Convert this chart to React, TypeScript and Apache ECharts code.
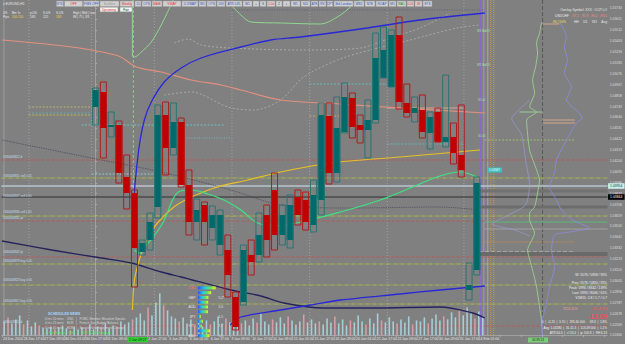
import React, { useEffect, useRef } from 'react';
import * as echarts from 'echarts';

const FONT = 'Liberation Sans, Arial, sans-serif';

// ---------- price scale ----------
const PRICE_MIN = 1.0246;
const PRICE_MAX = 1.05814;
const PRICE_STEP = 0.00109;

// ---------- candles (index 0..49) ----------
const candleOpen = [1.04744,1.04894,1.04544,1.04564,1.04044,1.03884,1.03294,1.03414,1.03744,1.04664,1.04334,1.04594,1.03964,1.03594,1.03764,1.03534,1.03364,1.03314,1.02844,1.02794,1.03264,1.03264,1.03664,1.03914,1.03464,1.03414,1.03844,1.03814,1.03564,1.03814,1.04654,1.04084,1.04494,1.04834,1.04564,1.04514,1.04614,1.05034,1.04944,1.05464,1.04784,1.04684,1.04714,1.04484,1.04694,1.04394,1.04444,1.04264,1.02914,1.03114];
const candleClose = [1.04914,1.04534,1.04564,1.04084,1.03884,1.03334,1.03384,1.03594,1.04664,1.04334,1.04594,1.03964,1.03594,1.03714,1.03594,1.03664,1.03664,1.03064,1.02544,1.03314,1.03194,1.03464,1.03414,1.03464,1.03664,1.03764,1.03664,1.03594,1.03864,1.04664,1.04084,1.04534,1.04844,1.04544,1.04514,1.04614,1.05234,1.05314,1.05464,1.04794,1.04684,1.04734,1.04494,1.04644,1.04394,1.04444,1.04284,1.04114,1.02964,1.03984];
const candleLow = [1.04564,1.04234,1.04444,1.03984,1.03724,1.02944,1.03264,1.03314,1.03634,1.04064,1.04264,1.03944,1.03464,1.03414,1.03364,1.03414,1.03264,1.02844,1.02514,1.02764,1.03064,1.03194,1.03244,1.03314,1.03364,1.03334,1.03564,1.03514,1.03494,1.03664,1.03974,1.03994,1.04484,1.04434,1.04384,1.04234,1.04584,1.05034,1.04944,1.04724,1.04644,1.04594,1.04434,1.04324,1.04394,1.04344,1.04174,1.04044,1.02814,1.03064];
const candleHigh = [1.04934,1.04994,1.04694,1.04604,1.04264,1.03914,1.03414,1.03684,1.04764,1.04794,1.04784,1.04634,1.04114,1.03824,1.03794,1.03754,1.03714,1.03464,1.02894,1.03364,1.03414,1.03684,1.03764,1.04084,1.03764,1.03864,1.03914,1.03894,1.04014,1.04784,1.04784,1.04844,1.04984,1.04884,1.04664,1.04814,1.05484,1.05544,1.05514,1.05644,1.04974,1.04844,1.04864,1.04694,1.04734,1.05064,1.04584,1.04764,1.03184,1.04044];

// ---------- volume (lower timeframe, two per candle slot) ----------
const volumeBars = [
  140,180,120,160,200,110,150,90,130,100,80,
  70,90,60,80,100,70,50,90,60,80,70,110,60,90,80,120,70,100,90,140,110,130,160,
  180,220,150,280,200,330,420,300,250,190,170,
  140,180,120,160,100,130,90,150,110,140,190,120,170,130,200,160,
  120,150,100,170,130,220,140,110,160,130,180,120,190,150,110,140,210,130,160,120,
  140,110,170,130,190,120,160,100,150,130,200,140,110,170,120,220,150,130,180,140,
  120,160,130,190,110,150,140,180,120,170,210,150,190,160,230,180,250,200,280,220,170,240,190,
];

// ---------- time labels ----------
const dateLabels = ['24 Dec 2024','26 Dec 17:00','27 Dec 09:00','30 Dec 01:00','30 Dec 17:00','31 Dec 09:00','2 Jan 09:27','2 Jan 17:00','3 Jan 09:00','6 Jan 01:00','6 Jan 17:00','9 Jan 09:00','10 Jan 17:00','14 Jan 09:00','15 Jan 01:00','15 Jan 17:00','16 Jan 09:00','20 Jan 01:00','21 Jan 17:00','22 Jan 09:00','27 Jan 17:00','30 Jan 09:00','31 Jan 17:00','4 Feb 01:00'];
const highlightedLabel = 6;

// ---------- indicator curves [candle index, price] ----------
const blueVwap = [[4.73,1.03364],[4.86,1.03764],[5.12,1.04014],[5.63,1.04364],[6.27,1.04614],[7.16,1.04794],[8.83,1.04994],[11.0,1.05134],[13.56,1.05234],[18.68,1.05344],[22.52,1.05414],[26.36,1.05444],[34.93,1.05534],[41.71,1.05614],[50.03,1.05684]];
const blueLower = [[17.3,1.02564],[18.68,1.02644],[23.8,1.02714],[27.64,1.02764],[31.47,1.02814],[39.15,1.02874],[44.27,1.02914],[50.03,1.02954]];
const yellowMa = [[4.73,1.02714],[4.99,1.03014],[5.5,1.03184],[6.14,1.03334],[6.78,1.03444],[8.06,1.03594],[10.62,1.03774],[15.23,1.03934],[19.58,1.04014],[23.8,1.04094],[30.19,1.04184],[39.15,1.04244],[49.39,1.04314]];
const greenMa = [[4.99,1.03314],[5.63,1.03284],[6.27,1.03344],[7.42,1.03444],[8.7,1.03594],[10.62,1.03894],[12.28,1.03914],[14.46,1.03874],[16.5,1.03814],[18.68,1.03714],[20.6,1.03594],[22.52,1.03554],[26.36,1.03594],[31.47,1.03694],[36.59,1.03814],[40.43,1.03934],[44.27,1.04054],[46.83,1.04094],[49.0,1.04044]];
const salmonMa = [[-12.03,1.05414],[-3.07,1.05344],[2.94,1.05254],[5.25,1.05144],[8.44,1.05094],[12.28,1.05014],[16.12,1.04964],[18.68,1.04914],[23.8,1.04814],[31.47,1.04774],[39.15,1.04734],[50.03,1.04684]];
const navyMa = [[-12.03,1.03404],[-5.63,1.03314],[0.77,1.03234],[4.61,1.03184],[8.44,1.03094],[11.0,1.03044],[17.4,1.02914],[21.24,1.02854],[24.18,1.02784],[29.3,1.02734],[35.7,1.02734],[44.27,1.02744],[48.49,1.02684],[50.03,1.02634]];
const darkDotted = [[-12.03,1.04414],[-5.63,1.04314],[0.77,1.04214],[8.44,1.04094],[17.4,1.03914],[23.8,1.03764],[32.75,1.03734],[44.27,1.03744],[49.39,1.03714]];
const greenBandA = [[4.73,1.05814],[4.73,1.05254],[4.99,1.05244],[5.89,1.05294],[7.16,1.05394],[8.44,1.05564],[9.98,1.05814]];
const greenBandB = [[17.4,1.05764],[18.68,1.05664],[19.96,1.05594],[23.8,1.05584],[28.92,1.05574],[31.47,1.05664],[33.39,1.05784],[34.3,1.05814]];
const grayEnvUpper = [[10.11,1.05384],[11.9,1.05424],[13.56,1.05364],[17.4,1.05334],[26.36,1.05314],[34.03,1.05334],[37.87,1.05434],[41.71,1.05534],[45.55,1.05684]];
const grayEnvLower = [[8.83,1.04864],[12.28,1.04894],[17.02,1.04744],[20.34,1.04714],[23.8,1.04814],[26.74,1.05044],[31.09,1.05214],[35.31,1.05314],[40.43,1.05414],[46.44,1.05534],[49.39,1.05564]];

// ---------- volume profile [offset, price] ----------
const profileGreen = [[-1,1.05594],[-3,1.05484],[-6,1.05384],[-5,1.05284],[-7,1.05144],[-10,1.05014],[-8,1.04884],[-13,1.04744],[-6,1.04694],[-16,1.04614],[-13,1.04314],[-6,1.04114],[-3,1.04014],[-5,1.03884],[-8,1.03744],[-13,1.03684],[-13,1.03614],[-8,1.03484],[-15,1.03314],[-10,1.03114],[-6,1.02944],[-3,1.02744],[-1,1.02614],[0,1.02464]];
const profileLavender = [[17,1.05594],[19,1.05564],[24,1.05444],[22,1.05344],[25,1.05214],[22,1.05084],[29,1.04944],[24,1.04814],[37,1.04684],[40,1.04634],[34,1.04584],[24,1.04414],[14,1.04214],[12,1.04084],[7,1.03944],[14,1.03814],[19,1.03714],[30,1.03614],[47,1.03534],[27,1.03494],[12,1.03464],[9,1.03314],[12,1.03144],[7,1.02944],[4,1.02784],[0,1.02614],[0,1.02464]];
const profileLavenderLeft = [[-13,1.04814],[-26,1.04694],[-31,1.04634],[-21,1.04464],[-17,1.04214],[-13,1.03964],[-17,1.03764],[-38,1.03644],[-51,1.03574],[-28,1.03514],[-13,1.03454]];

// ---------- horizontal levels ----------
const YG = '#b4c83c';
const levels: any[] = [
  { p: 1.05714, x1: 17.5, x2: 50, c: '#55556a', d: [1, 1.5] },
  { p: 1.04744, x1: -8.6, x2: -0.5, c: '#c8c070', d: [2, 1.5] },
  { p: 1.04684, x1: -8.6, x2: -0.5, c: '#60b0b0', d: [2, 1.5] },
  { p: 1.04664, x1: -8.6, x2: -0.5, c: '#d0c040', d: [2, 1.5] },
  { p: 1.04564, x1: -1.8, x2: 16.5, c: '#70d0d0', d: [2, 1.5] },
  { p: 1.04434, x1: 7.5, x2: 17.5, c: '#70c8d0', d: [1, 1.5] },
  { p: 1.04074, x1: -0.5, x2: 8, c: '#90d8e0', d: [2, 1.5] },
  { p: 1.04974, x1: 27.5, x2: 39, c: '#60c8c8', d: [2, 1.5] },
  { p: 1.04654, x1: 27.5, x2: 32.5, c: '#e0b040', d: [2, 1.5] },
  { p: 1.04734, x1: 37.5, x2: 47.3, c: '#e8b0a0' },
  { p: 1.04374, x1: 37.5, x2: 47.3, c: '#60c0c0', d: [2, 1.5] },
  { p: 1.04414, x1: 50, x2: 61.5, c: '#a0d070', d: [2, 1.5] },
  { p: 1.03394, x1: 50, x2: 61.5, c: '#e09040', d: [1, 1] },
  { p: 1.03294, x1: 48.5, x2: 61.5, c: '#d8d8d8', d: [4, 2] },
  { p: 1.05574, x1: 57.45, x2: 59.6, c: '#e8b090' },
  { p: 1.04614, x1: 57.45, x2: 61.6, c: '#e8b090' },
  { p: 1.04584, x1: 57.45, x2: 61.6, c: '#e8b090' },
  { p: 1.04694, x1: 54.5, x2: 57.45, c: '#a0e0a0' },
  { p: 1.03904, x1: 48.5, x2: 65.8, c: '#717171', w: 3 },
  { p: 1.03744, x1: 49.5, x2: 65.8, c: '#6c6c6c', w: 3 },
  { p: 1.03274, x1: 49, x2: 65.8, c: '#6a6a6a', w: 4 },
  { p: 1.04214, x1: -12.1, x2: 65.8, c: '#cc4c4c', d: [3, 2] },
  { p: 1.04034, x1: -12.1, x2: 65.8, c: YG, d: [4, 1, 1, 1] },
  { p: 1.03954, x1: -12.1, x2: 65.8, c: '#b6c6ce', w: 1.6, tag: '#c8eef0', tagText: '#103030' },
  { p: 1.03844, x1: -12.1, x2: 65.8, c: '#1a1a1a', tag: '#000000', tagText: '#ffffff' },
  { p: 1.03654, x1: -12.1, x2: 65.8, c: YG, d: [4, 1, 1, 1] },
  { p: 1.03604, x1: -12.1, x2: 50, c: '#c05050', d: [3, 2] },
  { p: 1.03594, x1: 50, x2: 65.8, c: '#50c878' },
  { p: 1.03524, x1: 50, x2: 65.8, c: '#a8a8a8' },
  { p: 1.03244, x1: -12.1, x2: 65.8, c: '#c85050', d: [3, 2] },
  { p: 1.03174, x1: -12.1, x2: 65.8, c: YG, d: [4, 1, 1, 1] },
  { p: 1.02964, x1: -12.1, x2: 65.8, c: YG, d: [4, 1, 1, 1] },
  { p: 1.02774, x1: -12.1, x2: 65.8, c: YG, d: [4, 1, 1, 1] },
  { p: 1.02554, x1: -12.1, x2: 65.8, c: '#c85050', d: [3, 2] },
];

// ---------- vertical lines ----------
const verticals: any[] = [
  { x: -11.78, c: '#a4a4a4' },
  { x: -8.57, c: '#a8a8a8', d: [1, 2] },
  { x: -0.51, c: '#a8a8a8', d: [1, 2] },
  { x: 7.55, c: '#a8a8a8', d: [1, 2] },
  { x: 17.53, c: '#a8a8a8', d: [1, 2] },
  { x: 27.51, c: '#a8a8a8', d: [1, 2] },
  { x: 37.49, c: '#a8a8a8', d: [1, 2] },
  { x: 47.34, c: '#a8a8a8', d: [1, 2] },
  { x: 4.86, c: '#90d890', d: [3, 2], bottom: 1.03314 },
  { x: 49.51, c: '#8a68e0', w: 1.2 },
  { x: 49.9, c: '#b094f0' },
  { x: 50.41, c: '#b4b4b4' },
  { x: 50.8, c: '#e0a040', d: [1, 1] },
  { x: 51.18, c: '#e0a040', d: [1, 1] },
  { x: 57.45, c: '#4c4c4c', d: [4, 2] },
];

// ---------- currency strength ----------
const currencies = ['USD','EUR','GBP','NZD','AUD','CHF','JPY','CAD','HKD','BAS','BAG'];
const strength = [8.8, 6.6, 5.2, 5.1, 5.0, 5.0, 1.5, 2.5, 1.9, 6.0, 5.6];
const strengthMark = ['', '', '*', '*', '', '', '', '*', '', '*', ''];

// ---------- panel texts ----------
const toolbarButtons: [string, number, string][] = [
  ['STD',8,'#3050c0'],['OFF',19,'#e03030'],['FIBS OFF',16.5,'#3050c0'],['Bubbles',20,'#9a9a9a'],['Weekly',15,'#e03030'],['15',7,'#3050c0'],['OTS',10,'#3050c0'],['MAIE',11,'#e03030'],['VWAP',19,'#e03030'],['U-VWAP',17,'#3050c0'],
  ['W1',8,'#3050c0'],['OTS',10,'#3050c0'],['20V',9,'#3050c0'],['ATR 0.81',17,'#3050c0'],['W1',10,'#3050c0'],['+',7,'#3050c0'],['S',7,'#3050c0'],['1.0x',9,'#e03030'],['2',7,'#3050c0'],['+',8,'#3050c0'],['W1',10,'#3050c0'],['S41',10,'#3050c0'],['ATE',8,'#3050c0'],['RV',8,'#3050c0'],['CPT',7,'#3050c0'],['Bid London',20,'#3050c0'],['WB1',11,'#3050c0'],['NTE',11,'#3050c0'],['NOAP',13,'#3050c0'],['M1',8,'#3050c0'],['RAC',10,'#208020'],['0.01',8,'#e03030'],['48',8,'#e03030'],['ETS',10,'#3050c0'],
];
const orderLabels: [number, string][] = [
  [158, '#636408822 d'], [177, '#636408831 sell 0.05'], [197, '#636408837 sell 0.05'], [213, '#636408836 sell 0.05'],
  [219, '#636408831 tp'], [253, '#636408842 tp'], [262, '#636408879 buy 0.05'], [281, '#636408823 buy 0.05'],
  [302, '#636408857 buy 0.05'], [323, '#636408812 d'],
];
const newsLines = [
  '0 hrs 10 mins    USD   |   FOMC Member Musalem Speaks',
  '0 hrs 25 mins    EUR   |   French Gov Budget Balance',
  '0 hrs 40 mins    EUR   |   Spanish Unemployment Change',
];
const newsNext = '21 hrs 40 mins    USD   \u2022   JOLTS Job Openings';
const statLines = [
  'W: 5576 / 5818 / 92%',
  'Prev: 5576 / 5820 / 92%',
  'Peak: 5996 / 8342 / 139%',
  'Last: 5990 / 8046 / 61%',
  'V1M15: 2.8 / 1.7 / 0.7',
];
const bottomStats = [
  '0  |  -0.25  |  3.70  |  193.40 000 \u2190 69.3  |  1.8%',
  'Avg: 1.03280  |  31.41.3  |  113.49 000  |  1.1%',
  'ATR 64.6  |  cl 53.4  |  tp 104.8  |  RH 6.13',
];

function txt(x: number, y: number, text: string, fill: string, size = 3.4, align = 'left', weight = 'normal') {
  return {
    type: 'text', x, y, silent: true, z: 100,
    style: { text, fill, fontSize: size, fontFamily: FONT, fontWeight: weight, align, verticalAlign: 'middle' },
  };
}

function buildGraphic() {
  const els: any[] = [];
  // toolbar
  let cx = 56.5;
  toolbarButtons.forEach(([t, w, c]) => {
    els.push({ type: 'rect', z: 99, silent: true, shape: { x: cx, y: 1, width: w - 1, height: 5.6 }, style: { fill: '#d0d0d0', stroke: '#9a9a9a', lineWidth: 0.5 } });
    els.push(txt(cx + (w - 1) / 2, 3.9, t, c, 3.2, 'center'));
    cx += w;
  });
  els.push({ type: 'rect', z: 99, silent: true, shape: { x: 100, y: 7.2, width: 18, height: 4.6 }, style: { fill: '#f4f4f4', stroke: '#9a9a9a', lineWidth: 0.5 } });
  els.push(txt(109, 9.5, 'Upcoming', '#e03030', 3.1, 'center'));
  els.push({ type: 'rect', z: 99, silent: true, shape: { x: 120, y: 7.2, width: 12, height: 4.6 }, style: { fill: '#f4f4f4', stroke: '#9a9a9a', lineWidth: 0.5 } });
  els.push(txt(126, 9.5, 'Fair', '#202020', 3.1, 'center'));

  // top-left info
  els.push(txt(2.5, 3.8, '\u25BE EURUSD,H1', '#e8e8e8', 3.3));
  [['US',3],['Bm',12],['ls',18],['p.US',30],['S.US',43],['S.US',56],['High | Mid | Low',73]].forEach(([t, x]) => els.push(txt(x as number, 13, t as string, '#e8e8e8', 3.1)));
  [['Pips',3,'#e8e8e8'],['100',12,'#f0d040'],['150',18,'#f0d040'],['183',30,'#e8e8e8'],['125',43,'#e8e8e8'],['183',56,'#f0d040'],['88 | 75 | 3/3',73,'#e8e8e8']].forEach(([t, x, c]) => els.push(txt(x as number, 17, t as string, c as string, 3.1)));

  // right top
  els.push(txt(607, 10, 'Overlay Symbol: XXX : OCP LO', '#e8e8e8', 3.3, 'right'));
  els.push(txt(555, 16, 'USDCHF', '#f0f0f0', 3.3));
  els.push(txt(607, 16, '-97.1  -91.9  -90.2  -93.1', '#f09080', 3.3, 'right'));
  els.push(txt(553, 22, '90 | 50%', '#f0e040', 3.3));
  els.push(txt(607, 22, 'HH     D1     W1     Avg', '#e8e8e8', 3.3, 'right'));

  // right bottom stats
  const sy = [275, 282.7, 287.7, 292.7, 297.7];
  statLines.forEach((t, i) => els.push(txt(607, sy[i], t, '#f0f0f0', 3.3, 'right')));
  els.push(txt(563, 309, '3724.11%', '#f0a0a0', 3.3));
  els.push(txt(607, 309, '-35.24 000', '#ff5050', 3.3, 'right'));
  els.push(txt(607, 316.5, '-13.09', '#ff4848', 6.8, 'right'));
  const by = [322, 327.5, 333];
  bottomStats.forEach((t, i) => els.push(txt(607, by[i], t, '#f0f0f0', 3.1, 'right')));

  // left order labels
  orderLabels.forEach(([y, t]) => els.push(txt(3, y - 1.5, t, '#c4dce8', 3.0)));

  // chart small labels
  els.push(txt(477, 31, 'W1 Bid13', '#a8e0a8', 2.9));
  els.push(txt(477, 65, 'W1 Bid13', '#a8e0a8', 2.9));
  els.push(txt(478, 100, 'S1 d1', '#a8e0a8', 2.9));
  els.push(txt(478, 136, 'S1 d1', '#a8e0a8', 2.9));
  els.push({ type: 'rect', z: 99, silent: true, shape: { x: 487, y: 167.5, width: 15, height: 5 }, style: { fill: '#3cc0c0' } });
  els.push(txt(494.5, 170, '1.03947', '#f4ffff', 3.0, 'center'));

  // news panel
  els.push(txt(48, 313.5, 'SCHEDULED NEWS', '#a8d4ff', 3.4, 'left', 'bold'));
  newsLines.forEach((t, i) => els.push(txt(45, 318.5 + i * 4.6, t, '#d4d4d4', 3.1)));
  els.push(txt(45, 332.3, newsNext, '#40f040', 3.1));

  // bottom-right timer box
  els.push({ type: 'rect', z: 101, silent: true, shape: { x: 528, y: 337.5, width: 20, height: 5 }, style: { fill: '#7ccc7c' } });
  els.push({ ...txt(538, 340, '00:39:13', '#103010', 3.0, 'center'), z: 102 });
  return els;
}

function lineSeries(data: number[][], color: string, width = 1.2, type: any = 'solid', smooth: any = 0.3, xAxisIndex = 0) {
  return {
    type: 'line', xAxisIndex, yAxisIndex: 0, data, showSymbol: false, symbol: 'none', smooth,
    lineStyle: { color, width, type }, silent: true, z: 3,
  };
}

export default function App() {
  const ref = useRef<HTMLDivElement>(null);
  useEffect(() => {
    document.body.style.margin = '0';
    const chart = echarts.init(ref.current!, null, { renderer: 'svg' });
    const candleData = candleOpen.map((o, i) => [i, o, candleClose[i], candleLow[i], candleHigh[i]]);
    const gradient = new echarts.graphic.LinearGradient(0, 0, 1, 0, [
      { offset: 0, color: '#2a52ff' }, { offset: 0.4, color: '#22d0e0' }, { offset: 0.7, color: '#60e060' }, { offset: 1, color: '#f0f020' },
    ]);
    const option: any = {
      animation: false,
      backgroundColor: '#808080',
      grid: [
        { left: 0, top: 0, width: 608, height: 335.4 },
        { left: 198, top: 285.5, width: 19, height: 52.5 },
      ],
      xAxis: [
        { type: 'value', gridIndex: 0, min: -12.027, max: 65.76, show: false },
        {
          type: 'value', gridIndex: 0, min: 0, max: 29.15, interval: 1, position: 'bottom',
          axisLine: { show: true, lineStyle: { color: '#a8a8a8', width: 0.8 } },
          axisTick: { show: true, length: 1.5, lineStyle: { color: '#c8c8c8', width: 0.6 } },
          splitLine: { show: false },
          axisLabel: {
            formatter: (v: number) => {
              const i = Math.round(v);
              const s = dateLabels[i] ?? '';
              return i === highlightedLabel ? `{hl|${s}}` : s;
            },
            rich: { hl: { backgroundColor: '#32d232', color: '#0a300a', padding: [1, 1.5, 1, 1.5], fontSize: 3.3, fontFamily: FONT } },
            fontSize: 3.5, fontFamily: FONT,
            color: '#e6e6e6', align: 'left', margin: 1.8, padding: [0, 0, 0, 1], showMaxLabel: false,
          },
        },
        { type: 'value', gridIndex: 0, min: -543, max: 65, show: false },
        { type: 'value', gridIndex: 1, min: 0, max: 9.5, show: false },
      ],
      yAxis: [
        {
          type: 'value', gridIndex: 0, min: PRICE_MIN, max: PRICE_MAX, interval: PRICE_STEP, position: 'right',
          axisLine: { show: true, lineStyle: { color: '#a8a8a8', width: 0.8 } },
          axisTick: { show: true, length: 1.5, lineStyle: { color: '#c0c0c0', width: 0.6 } },
          splitLine: { show: false },
          axisLabel: { formatter: (v: number) => v.toFixed(5), fontSize: 3.4, fontFamily: FONT, color: '#dedede', margin: 2.5, showMaxLabel: false },
        },
        { type: 'value', gridIndex: 0, min: 0, max: 3354, show: false },
        {
          type: 'category', gridIndex: 1, data: currencies, inverse: true,
          axisLine: { show: false }, axisTick: { show: false },
          axisLabel: {
            fontSize: 3.3, fontFamily: FONT, margin: 2.5,
            color: (v: string) => (v === 'USD' ? '#ff7070' : v === 'EUR' ? '#40e040' : '#e4e4e4'),
          },
        },
        {
          type: 'category', gridIndex: 1, position: 'right', inverse: true,
          data: strength.map((s, i) => s.toFixed(1) + strengthMark[i]),
          axisLine: { show: false }, axisTick: { show: false },
          axisLabel: { fontSize: 3.3, fontFamily: FONT, margin: 1.5, color: (_v: string, i: number) => (i === 0 ? '#ff7070' : '#e4e4e4') },
        },
      ],
      graphic: { elements: buildGraphic() },
      series: [
        {
          type: 'custom', xAxisIndex: 0, yAxisIndex: 0, silent: true, clip: false, z: 1,
          data: verticals.map((v) => [v.x, PRICE_MAX, v.bottom ?? PRICE_MIN]),
          encode: { x: 0, y: [1, 2] },
          renderItem: (params: any, api: any) => {
            const v = verticals[params.dataIndex];
            const a = api.coord([api.value(0), api.value(1)]);
            const b = api.coord([api.value(0), api.value(2)]);
            return { type: 'line', shape: { x1: a[0], y1: a[1], x2: b[0], y2: b[1] }, style: { stroke: v.c, lineWidth: v.w ?? 0.8, lineDash: v.d ?? null } };
          },
        },
        {
          type: 'custom', xAxisIndex: 0, yAxisIndex: 0, silent: true, clip: false, z: 1,
          data: levels.map((l) => [l.x1, l.x2, l.p]),
          encode: { x: [0, 1], y: 2 },
          renderItem: (params: any, api: any) => {
            const l = levels[params.dataIndex];
            const a = api.coord([api.value(0), api.value(2)]);
            const b = api.coord([api.value(1), api.value(2)]);
            const children: any[] = [
              { type: 'line', shape: { x1: a[0], y1: a[1], x2: b[0], y2: a[1] }, style: { stroke: l.c, lineWidth: l.w ?? 0.8, lineDash: l.d ?? null } },
            ];
            if (l.tag) {
              children.push({ type: 'rect', shape: { x: b[0] + 0.5, y: a[1] - 2.8, width: 16.5, height: 5.6 }, style: { fill: l.tag }, z2: 10 });
              children.push({ type: 'text', x: b[0] + 2.5, y: a[1], z2: 11, style: { text: l.p.toFixed(5), fill: l.tagText, fontSize: 3.4, fontFamily: FONT, verticalAlign: 'middle' } });
            }
            return { type: 'group', children };
          },
        },
        {
          type: 'bar', xAxisIndex: 0, yAxisIndex: 1, silent: true, z: 2, barWidth: 1.6,
          data: volumeBars.map((v, i) => [-11.75 + 0.5 * i, v]),
          itemStyle: { color: (p: any) => (p.dataIndex % 4 === 1 ? 'rgba(222,160,172,0.9)' : 'rgba(168,214,222,0.9)') },
        },
        lineSeries(salmonMa, '#e2907e', 1.2),
        lineSeries(navyMa, '#24245c', 1.3),
        lineSeries(darkDotted, '#4a4a5c', 0.9, 'dotted'),
        lineSeries(grayEnvUpper, '#b2b2b2', 0.8, [2, 2]),
        lineSeries(grayEnvLower, '#b2b2b2', 0.8, [2, 2]),
        lineSeries(greenBandA, '#90d890', 1.0, 'solid', 0.3),
        lineSeries(greenBandB, '#90d890', 1.0, 'solid', 0.3),
        lineSeries(blueVwap, '#2828d8', 1.3, 'solid', 0.35),
        lineSeries(blueLower, '#2828d8', 1.3),
        lineSeries(yellowMa, '#e8c024', 1.2, 'solid', 0.3),
        lineSeries(greenMa, '#3ee282', 1.2, 'solid', 0.35),
        lineSeries(profileGreen, '#a0d890', 0.8, 'solid', 0.2, 2),
        lineSeries(profileLavender, '#8c8ce0', 0.8, 'solid', 0.2, 2),
        lineSeries(profileLavenderLeft, '#9a9ad8', 0.7, 'solid', 0.2, 2),
        {
          type: 'custom', xAxisIndex: 0, yAxisIndex: 0, silent: true, z: 4, clip: false,
          data: candleData,
          encode: { x: 0, y: [1, 2, 3, 4] },
          renderItem: (_params: any, api: any) => {
            const x = api.value(0);
            const o = api.value(1), c = api.value(2), lo = api.value(3), hi = api.value(4);
            const pO = api.coord([x, o]);
            const pC = api.coord([x, c]);
            const pL = api.coord([x, lo]);
            const pH = api.coord([x, hi]);
            const w = api.size([1, 0])[0] * 0.9;
            const bull = c >= o;
            const left = pO[0] - w / 2;
            return {
              type: 'group',
              children: [
                { type: 'rect', shape: { x: left, y: Math.min(pO[1], pC[1]), width: w, height: Math.max(1, Math.abs(pO[1] - pC[1])) }, style: { fill: bull ? '#006a6a' : '#c20000' } },
                { type: 'rect', shape: { x: left + 0.5, y: pH[1], width: w - 1, height: pL[1] - pH[1] }, style: { fill: 'none', stroke: bull ? '#2a7474' : '#b01c1c', lineWidth: 1 } },
              ],
            };
          },
        },
        {
          type: 'bar', xAxisIndex: 3, yAxisIndex: 2, data: strength, barWidth: 3, silent: true, z: 5,
          itemStyle: { color: gradient },
        },
      ],
    };
    chart.setOption(option);
    return () => chart.dispose();
  }, []);
  return <div ref={ref} style={{ position: 'fixed', left: 0, top: 0, width: 625, height: 344 }} />;
}
